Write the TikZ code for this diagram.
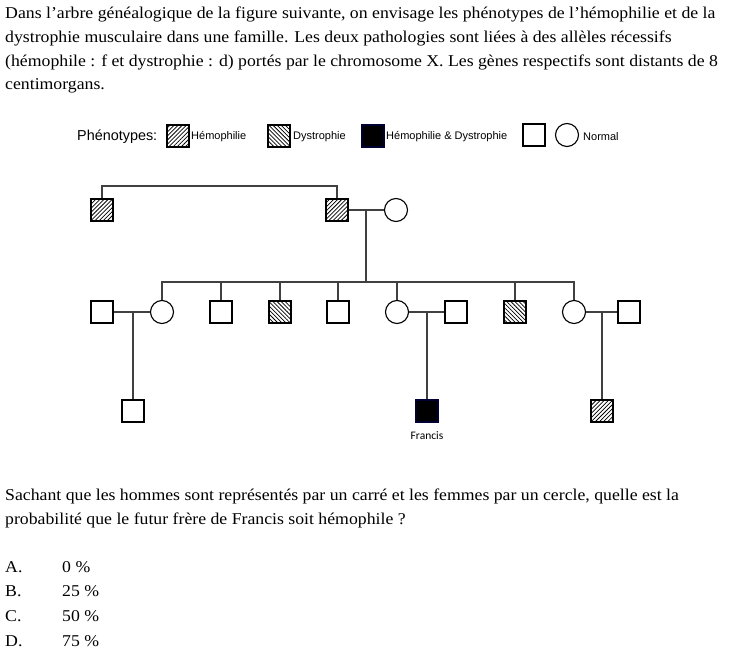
\documentclass[tikz,border=0pt]{standalone}
\usepackage{fontspec}
\setmainfont[FakeStretch=1.075]{Liberation Serif}
\newfontfamily\legendfont{Liberation Sans}
\newfontfamily\labelfont{Carlito}
\usetikzlibrary{patterns.meta}
\tikzset{
  body/.style={anchor=west, inner sep=0pt, font=\fontsize{16.5}{19}\selectfont},
  male/.style={draw=black, line width=1.1pt, minimum size=22pt, inner sep=0pt, rectangle, fill=white},
  female/.style={draw=black, line width=1.1pt, minimum size=23pt, inner sep=0pt, circle, fill=white},
  hemo/.style={male, fill=white, postaction={pattern={Lines[angle=45,distance=2.9pt,line width=0.75pt]}}},
  dys/.style={male, fill=white, postaction={pattern={Lines[angle=-45,distance=2.9pt,line width=0.75pt]}}},
  both/.style={male, fill=black, draw=black!80!blue},
  link/.style={draw=black!75, line width=1.2pt},
  leg/.style={anchor=west, inner sep=0pt, font=\legendfont\fontsize{11}{13}\selectfont},
}
\begin{document}
\begin{tikzpicture}[x=1pt,y=-1pt]
\useasboundingbox (0,0) rectangle (740,652);
% intro text
\node[body] (t1) at (5,14) {Dans l’arbre généalogique de la figure suivante, on envisage les phénotypes de l’hémophilie et de la};
\node[body] (t2) at (5,38) {dystrophie musculaire dans une famille. Les deux pathologies sont liées à des allèles récessifs};
\node[body] (t3) at (5,62) {(hémophile : f et dystrophie : d) portés par le chromosome X. Les gènes respectifs sont distants de 8};
\node[body] (t4) at (5,86) {centimorgans.};
% legend
\node[anchor=west, inner sep=0pt, font=\legendfont\fontsize{14.4}{16}\selectfont] (lp) at (77,137) {Phénotypes:};
\node[hemo] (lh) at (178,136) {};
\node[leg] (lht) at (191,137) {Hémophilie};
\node[dys] (ld) at (279,136) {};
\node[leg] (ldt) at (293,137) {Dystrophie};
\node[both] (lb) at (373,136) {};
\node[leg] (lbt) at (386,137) {Hémophilie \& Dystrophie};
\node[male] (ls) at (534,135) {};
\node[female] (lc) at (567,135) {};
\node[leg] (lnt) at (583,137) {Normal};
% generation I
\node[hemo] (g1a) at (102,210) {};
\node[hemo] (g1b) at (337,210) {};
\node[female] (g1c) at (396,210) {};
\coordinate (top) at (220,186);
\draw[link] (g1a.north) |- (top) -| (g1b.north);
\draw[link] (g1b.east) -- (g1c.west);
\coordinate (m1) at (366,210);
\coordinate (sib) at (366,282);
\draw[link] (m1) -- (sib);
% generation II
\node[male] (p1) at (102,312) {};
\node[female] (c1) at (162,312) {};
\node[male] (s2) at (221,312) {};
\node[dys] (s3) at (280,312) {};
\node[male] (s4) at (338,312) {};
\node[female] (c2) at (397,312) {};
\node[male] (p2) at (456,312) {};
\node[dys] (s5) at (515,312) {};
\node[female] (c3) at (574,312) {};
\node[male] (p3) at (629,312) {};
\draw[link] (c1.north) |- (sib) -| (c3.north);
\foreach \n in {s2,s3,s4,c2,s5} \draw[link] (\n.north) -- (\n.north |- sib);
\draw[link] (p1.east) -- (c1.west);
\draw[link] (c2.east) -- (p2.west);
\draw[link] (c3.east) -- (p3.west);
% generation III
\node[male] (k1) at (133,411) {};
\node[both] (fr) at (427,411) {};
\node[hemo] (k3) at (602,411) {};
\node[inner sep=0pt, font=\labelfont\fontsize{11.5}{13}\selectfont] (frl) at (427,436) {Francis};
\draw[link] (k1.north |- p1) -- (k1.north);
\draw[link] (fr.north |- c2) -- (fr.north);
\draw[link] (k3.north |- c3) -- (k3.north);
% question
\node[body] (q1) at (5,496) {Sachant que les hommes sont représentés par un carré et les femmes par un cercle, quelle est la};
\node[body] (q2) at (5,520) {probabilité que le futur frère de Francis soit hémophile ?};
\node[body] (a) at (5,567) {A.};
\node[body] (av) at (62,567) {0 \%};
\node[body] (b) at (5,591) {B.};
\node[body] (bv) at (62,591) {25 \%};
\node[body] (c) at (5,616) {C.};
\node[body] (cv) at (62,616) {50 \%};
\node[body] (d) at (5,641) {D.};
\node[body] (dv) at (62,641) {75 \%};
\end{tikzpicture}
\end{document}
